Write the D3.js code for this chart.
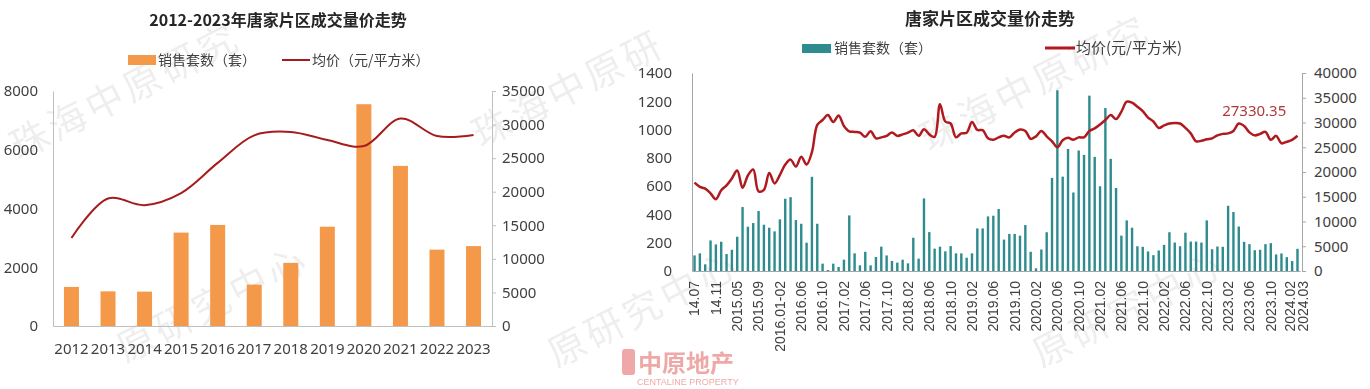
<!DOCTYPE html>
<html>
<head>
<meta charset="utf-8">
<script src="https://cdn.jsdelivr.net/npm/d3@7"></script>
<style>
  body { margin: 0; background: #fff; }
  svg { display: block; }
  .tick text { fill: #404040; }
</style>
</head>
<body>
<div id="chart"></div>
<script>
// ---- left chart: yearly ----
var years = ["2012", "2013", "2014", "2015", "2016", "2017", "2018", "2019", "2020", "2021", "2022", "2023"];
var yearSales = [1330, 1180, 1170, 3180, 3440, 1410, 2150, 3380, 7550, 5450, 2600, 2720];
var yearPrice = [13100, 19000, 18000, 19800, 24300, 28400, 28900, 27700, 26800, 30900, 28300, 28450];
var leftTicks = [0, 2000, 4000, 6000, 8000];
var rightTicks = [0, 5000, 10000, 15000, 20000, 25000, 30000, 35000];

// ---- right chart: monthly ----
var months = [
  "14.07", "14.08", "14.09", "14.10", "14.11", "14.12", "2015.01-03", "2015.04",
  "2015.05", "2015.06", "2015.07", "2015.08", "2015.09", "2015.10", "2015.11", "2015.12",
  "2016.01-02", "2016.03", "2016.04", "2016.05", "2016.06", "2016.07", "2016.08", "2016.09", "2016.10", "2016.11", "2016.12",
  "2017.01", "2017.02", "2017.03", "2017.04", "2017.05", "2017.06", "2017.07", "2017.08", "2017.09", "2017.10", "2017.11", "2017.12",
  "2018.01", "2018.02", "2018.03", "2018.04", "2018.05", "2018.06", "2018.07", "2018.08", "2018.09", "2018.10", "2018.11", "2018.12",
  "2019.01", "2019.02", "2019.03", "2019.04", "2019.05", "2019.06", "2019.07", "2019.08", "2019.09", "2019.10", "2019.11", "2019.12",
  "2020.01", "2020.02", "2020.03", "2020.04", "2020.05", "2020.06", "2020.07", "2020.08", "2020.09", "2020.10", "2020.11", "2020.12",
  "2021.01", "2021.02", "2021.03", "2021.04", "2021.05", "2021.06", "2021.07", "2021.08", "2021.09", "2021.10", "2021.11", "2021.12",
  "2022.01", "2022.02", "2022.03", "2022.04", "2022.05", "2022.06", "2022.07", "2022.08", "2022.09", "2022.10", "2022.11", "2022.12",
  "2023.01", "2023.02", "2023.03", "2023.04", "2023.05", "2023.06", "2023.07", "2023.08", "2023.09", "2023.10", "2023.11", "2023.12",
  "2024.01", "2024.02", "2024.03"
];
var monthSales = [
  110, 125, 47, 216, 188, 207, 120, 150, 242, 452, 313, 339, 424, 327, 306, 280,
  365, 511, 522, 360, 334, 200, 666, 334, 52, 7, 52, 28, 80, 393, 125, 40,
  136, 40, 99, 172, 110, 71, 59, 80, 54, 235, 87, 513, 275, 158, 172, 139,
  176, 125, 125, 94, 125, 301, 301, 386, 391, 438, 222, 262, 262, 250, 325, 136,
  19, 152, 274, 658, 1278, 667, 863, 555, 852, 821, 1240, 807, 599, 1152, 793, 587,
  250, 358, 306, 175, 171, 138, 112, 145, 185, 274, 201, 175, 271, 208, 208, 201,
  358, 154, 173, 171, 461, 417, 314, 206, 190, 147, 150, 190, 197, 117, 124, 98,
  70, 157
];
var monthPrice = [
  17840, 17000, 16650, 15700, 14500, 16300, 17300, 18700, 20300, 16800, 19300, 20500, 16100, 16400, 19800, 17700,
  19400, 21500, 22500, 21100, 23100, 21500, 24000, 29500, 30500, 31500, 30100, 31400, 29300, 28200, 28100, 27950,
  27100, 28250, 26800, 27000, 27300, 28000, 27300, 27600, 27950, 28450, 27300, 28650, 27600, 27100, 33700, 30200,
  29800, 27000, 27800, 27950, 30100, 28500, 28450, 26800, 26500, 27000, 27300, 27000, 28000, 28600, 28300, 26700,
  27200, 28300, 27200, 26200, 25000, 26400, 26900, 26500, 27000, 27000, 28300, 28800, 29600, 30500, 31500, 30700,
  32200, 34200, 34000, 33200, 32300, 31000, 30200, 28900, 29400, 29800, 29900, 29800, 28900, 27800, 26200, 26300,
  26600, 26800, 27400, 27700, 27800, 28300, 29800, 29300, 28000, 27400, 27700, 28100, 26500, 27300, 25800, 26100,
  26500, 27330.35
];
var monthTicks = [
  "14.07", "14.11", "2015.05", "2015.09", "2016.01-02", "2016.06", "2016.10", "2017.02", "2017.06", "2017.10",
  "2018.02", "2018.06", "2018.10", "2019.02", "2019.06", "2019.10", "2020.02", "2020.06", "2020.10", "2021.02",
  "2021.06", "2021.10", "2022.02", "2022.06", "2022.10", "2023.02", "2023.06", "2023.10", "2024.02", "2024.03"
];
var countTicks = [0, 200, 400, 600, 800, 1000, 1200, 1400];
var priceTicks = [0, 5000, 10000, 15000, 20000, 25000, 30000, 35000, 40000];
var lastPriceLabel = "27330.35";

var numFont = "'Noto Sans', 'Open Sans', sans-serif";
var cjkFont = "'Noto Sans CJK SC', 'Noto Sans', sans-serif";
var plain = d3.format("d");

var svg = d3.select("#chart").append("svg")
  .attr("width", 1370)
  .attr("height", 389);

// ================= watermarks (drawn per character, only inside the frame) =================
var markText = "珠海中原研究中心";
var marks = [[30, 140], [492, 128], [940, 132], [24, 400], [455, 405], [940, 405]];
var ang = 27 * Math.PI / 180;
var wm = svg.append("g").attr("opacity", 0.07);
marks.forEach(function(m) {
  markText.split("").forEach(function(ch, k) {
    var cx = m[0] + k * 42 * Math.cos(ang);
    var cy = m[1] - k * 42 * Math.sin(ang);
    if (cx < 30 || cx > 1340 || cy < 36 || cy > 350) return;
    wm.append("text")
      .attr("transform", "translate(" + cx + "," + cy + ") rotate(-27)")
      .attr("text-anchor", "middle")
      .attr("dy", "0.35em")
      .style("font-family", cjkFont).style("font-size", "38px")
      .attr("fill", "#000")
      .text(ch);
  });
});

// ================= LEFT CHART =================
var xL = d3.scaleBand().domain(years).range([53, 492]).paddingInner(0.59).paddingOuter(0.3);
var yL = d3.scaleLinear().domain([0, 8000]).range([326, 91]);
var yLR = d3.scaleLinear().domain([0, 35000]).range([326, 91]);

var left = svg.append("g");

left.append("text")
  .attr("x", 278).attr("y", 26)
  .attr("text-anchor", "middle")
  .style("font-family", cjkFont).style("font-weight", "700").style("font-size", "16px")
  .attr("fill", "#262626")
  .text("2012-2023年唐家片区成交量价走势");

// legend
left.append("rect").attr("x", 128).attr("y", 55).attr("width", 28).attr("height", 10).attr("fill", "#F4994A");
left.append("text").attr("x", 158).attr("y", 60).attr("dy", "0.35em")
  .style("font-family", cjkFont).style("font-size", "14px").attr("fill", "#404040")
  .text("销售套数（套）");
left.append("line").attr("x1", 282).attr("x2", 310).attr("y1", 60).attr("y2", 60)
  .attr("stroke", "#A61C1C").attr("stroke-width", 2);
left.append("text").attr("x", 312).attr("y", 60).attr("dy", "0.35em")
  .style("font-family", cjkFont).style("font-size", "14px").attr("fill", "#404040")
  .text("均价（元/平方米）");

// axes
var lAxis = left.append("g").attr("transform", "translate(53,0)")
  .call(d3.axisLeft(yL).tickValues(leftTicks).tickFormat(plain).tickSize(0).tickPadding(15));
var bAxis = left.append("g").attr("transform", "translate(0,326)")
  .call(d3.axisBottom(xL).tickSize(0).tickPadding(17));
var rAxis = left.append("g").attr("transform", "translate(492,0)")
  .call(d3.axisRight(yLR).tickValues(rightTicks).tickFormat(plain).tickSize(4).tickPadding(6));
[lAxis, bAxis, rAxis].forEach(function(a) {
  a.select(".domain").attr("stroke", "#bfbfbf");
  a.selectAll(".tick line").attr("stroke", "#bfbfbf");
  a.selectAll("text").style("font-family", numFont).style("font-size", "15px");
});

left.selectAll(".ybar")
  .data(yearSales)
  .enter()
  .append("rect")
  .attr("x", (d, i) => xL(years[i]))
  .attr("y", d => yL(d))
  .attr("width", xL.bandwidth())
  .attr("height", d => yL(0) - yL(d))
  .attr("fill", "#F4994A");

var lineL = d3.line()
  .x((d, i) => xL(years[i]) + xL.bandwidth() / 2)
  .y(d => yLR(d))
  .curve(d3.curveCatmullRom.alpha(0.5));
left.append("path")
  .attr("d", lineL(yearPrice))
  .attr("fill", "none")
  .attr("stroke", "#A61C1C")
  .attr("stroke-width", 2);

// ================= RIGHT CHART =================
var xR = d3.scaleBand().domain(months).range([692, 1300]).paddingInner(0.55).paddingOuter(0.25);
var yR = d3.scaleLinear().domain([0, 1400]).range([271, 73]);
var yRR = d3.scaleLinear().domain([0, 40000]).range([271, 73]);

var right = svg.append("g");

right.append("text")
  .attr("x", 990).attr("y", 25)
  .attr("text-anchor", "middle")
  .style("font-family", cjkFont).style("font-weight", "700").style("font-size", "17px")
  .attr("fill", "#262626")
  .text("唐家片区成交量价走势");

right.append("rect").attr("x", 802).attr("y", 44).attr("width", 29).attr("height", 9).attr("fill", "#2E8B8E");
right.append("text").attr("x", 834).attr("y", 48).attr("dy", "0.35em")
  .style("font-family", cjkFont).style("font-size", "14px").attr("fill", "#404040")
  .text("销售套数（套）");
right.append("line").attr("x1", 1045).attr("x2", 1075).attr("y1", 48).attr("y2", 48)
  .attr("stroke", "#B0191E").attr("stroke-width", 3);
right.append("text").attr("x", 1076).attr("y", 48).attr("dy", "0.35em")
  .style("font-family", cjkFont).style("font-size", "15px").attr("fill", "#404040")
  .text("均价(元/平方米)");

var rl = right.append("g").attr("transform", "translate(692,0)")
  .call(d3.axisLeft(yR).tickValues(countTicks).tickFormat(plain).tickSize(0).tickPadding(20));
var rr = right.append("g").attr("transform", "translate(1302,0)")
  .call(d3.axisRight(yRR).tickValues(priceTicks).tickFormat(plain).tickSize(4).tickPadding(8));
var rb = right.append("g").attr("transform", "translate(0,271)")
  .call(d3.axisBottom(xR).tickValues(monthTicks).tickSize(0));
rb.selectAll("text")
  .attr("transform", "rotate(-90)")
  .attr("text-anchor", "end")
  .attr("x", -10)
  .attr("y", d => d === "2024.03" ? 6 : (d === "2024.02" ? -2 : 0))
  .attr("dy", "0.35em")
  .style("font-family", "'Liberation Sans', Arial, sans-serif")
  .style("font-size", "14px")
  .attr("fill", "#262626");
[rl, rr].forEach(function(a) {
  a.selectAll("text").style("font-family", numFont).style("font-size", "15px");
});
[rl, rr, rb].forEach(function(a) {
  a.select(".domain").attr("stroke", "#a6a6a6");
  a.selectAll(".tick line").attr("stroke", "#a6a6a6");
});

right.selectAll(".mbar")
  .data(monthSales)
  .enter()
  .append("rect")
  .attr("x", (d, i) => xR(months[i]))
  .attr("y", d => yR(d))
  .attr("width", xR.bandwidth())
  .attr("height", d => yR(0) - yR(d))
  .attr("fill", "#2E8B8E");

var lineR = d3.line()
  .x((d, i) => xR(months[i]) + xR.bandwidth() / 2)
  .y(d => yRR(d))
  .curve(d3.curveCatmullRom.alpha(0.5));
right.append("path")
  .attr("d", lineR(monthPrice))
  .attr("fill", "none")
  .attr("stroke", "#B0191E")
  .attr("stroke-width", 2.5);

var lastI = months.length - 1;
right.append("text")
  .attr("x", xR(months[lastI]) - 10)
  .attr("y", yRR(monthPrice[lastI]) - 20)
  .attr("text-anchor", "end")
  .style("font-family", numFont).style("font-size", "15px")
  .attr("fill", "#B0393B")
  .text(lastPriceLabel);

// ================= logo =================
var logo = svg.append("g").attr("opacity", 0.55);
logo.append("rect").attr("x", 622).attr("y", 349).attr("width", 13).attr("height", 26).attr("rx", 3).attr("fill", "#E0625F");
logo.append("text").attr("x", 638).attr("y", 372)
  .style("font-family", cjkFont).style("font-weight", "700").style("font-size", "24px")
  .attr("fill", "#E0625F").text("中原地产");
logo.append("text").attr("x", 637).attr("y", 385)
  .style("font-family", "'Liberation Sans', Arial, sans-serif").style("font-size", "9px")
  .attr("fill", "#E0625F").text("CENTALINE PROPERTY");
</script>
</body>
</html>
